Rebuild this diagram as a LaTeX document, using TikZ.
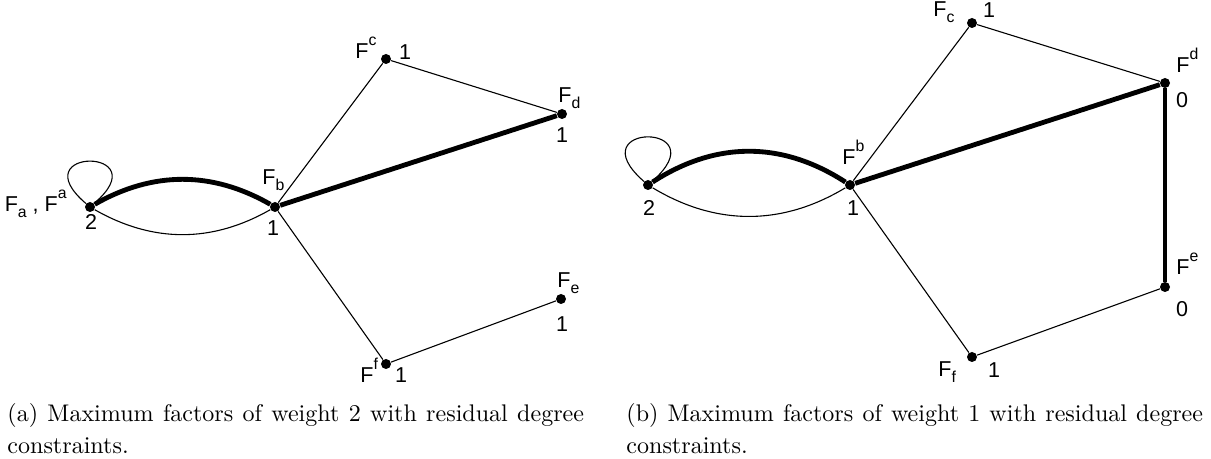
\documentclass[tikz,border=0pt]{standalone}
\usepackage{fontspec}
\newfontfamily\labelfont{Liberation Sans}
\usetikzlibrary{positioning}
\tikzset{
  dot/.style       = {circle, fill=black, inner sep=0pt, minimum size=0.16cm},
  thinedge/.style  = {draw=black, line width=0.5pt},
  thickedge/.style = {draw=black, line width=2.2pt},
  lab/.style       = {inner sep=0pt, font=\labelfont\fontsize{9.8}{11}\selectfont},
  captext/.style   = {inner sep=0pt, text width=9.23cm, align=justify,
                      font=\fontsize{10.95}{14.5}\selectfont}
}
\newcommand{\Fsup}[1]{F\raisebox{6.2pt}{\fontsize{7.2}{8}\selectfont #1}}
\newcommand{\Fsub}[1]{F\raisebox{-2.3pt}{\fontsize{7.2}{8}\selectfont #1}}

\begin{document}
\begin{tikzpicture}[x=0.016cm, y=-0.016cm]
\useasboundingbox (0,0) rectangle (1211,459);

% ---- Vertices (pixel grid) ----
\foreach \n/\x/\y in {%
  La/90/207, Lb/275/207, Lc/386/59, Ld/562/114, Le/561/299, Lf/386/364,
  Ra/648/185, Rb/850/185, Rc/972/23, Rd/1165/83, Re/1165/287, Rf/972/357} {
  \node[dot] (\n) at (\x,\y) {};
}

% ---- (a) weight 2 ----
\draw[thickedge] (La) .. controls +(63,-36) and +(-63,-36) .. (Lb);
\draw[thinedge]  (La) .. controls +(63,36) and +(-63,36) .. (Lb);
\draw[thinedge]  (La) .. controls +(-70,-60) and +(70,-60) .. (La);
\draw[thinedge]  (Lb) -- (Lc);
\draw[thinedge]  (Lc) -- (Ld);
\draw[thickedge] (Lb) -- (Ld);
\draw[thinedge]  (Lb) -- (Lf);
\draw[thinedge]  (Lf) -- (Le);

% ---- (b) weight 1 ----
\draw[thickedge] (Ra) .. controls +(68,-44) and +(-68,-44) .. (Rb);
\draw[thinedge]  (Ra) .. controls +(68,41) and +(-68,41) .. (Rb);
\draw[thinedge]  (Ra) .. controls +(-72,-63) and +(72,-63) .. (Ra);
\draw[thinedge]  (Rb) -- (Rc);
\draw[thinedge]  (Rc) -- (Rd);
\draw[thickedge] (Rb) -- (Rd);
\draw[thickedge] (Rd) -- (Re);
\draw[thinedge]  (Rb) -- (Rf);
\draw[thinedge]  (Rf) -- (Re);

% ---- Factor names ----
\node[lab, anchor=base east] (La-name) at (67,212)  {\Fsub{a} ,\;\Fsup{a}};
\node[lab, anchor=base west] (Lb-name) at (262,185) {\Fsub{b}};
\node[lab, anchor=base west] (Lc-name) at (355,59)  {\Fsup{c}};
\node[lab, anchor=base west] (Ld-name) at (558,103) {\Fsub{d}};
\node[lab, anchor=base west] (Le-name) at (557,288) {\Fsub{e}};
\node[lab, anchor=base west] (Lf-name) at (360,383) {\Fsup{f}};
\node[lab, anchor=base west] (Rb-name) at (842,165) {\Fsup{b}};
\node[lab, anchor=base west] (Rc-name) at (933,17)  {\Fsub{c}};
\node[lab, anchor=base west] (Rd-name) at (1176,73) {\Fsup{d}};
\node[lab, anchor=base west] (Re-name) at (1176,275) {\Fsup{e}};
\node[lab, anchor=base west] (Rf-name) at (938,377) {\Fsub{f}};

% ---- Residual degrees ----
\foreach \n/\x/\y/\t in {%
  La/91/222/2, Lb/273/228/1, Lc/405/52/1, Ld/562/135/1, Le/562/324/1, Lf/401/375/1,
  Ra/649/208/2, Rb/853/208/1, Rc/989/10/1, Rd/1182/100/0, Re/1182/309/0, Rf/994/370/1} {
  \node[lab] (\n-deg) at (\x,\y) {\t};
}

% ---- Captions ----
\node[captext, anchor=north west] (capA) at (7,403)
  {(a) Maximum factors of weight 2 with residual degree constraints.};
\node[captext, anchor=north west] (capB) at (626,403)
  {(b) Maximum factors of weight 1 with residual degree constraints.};
\end{tikzpicture}
\end{document}
